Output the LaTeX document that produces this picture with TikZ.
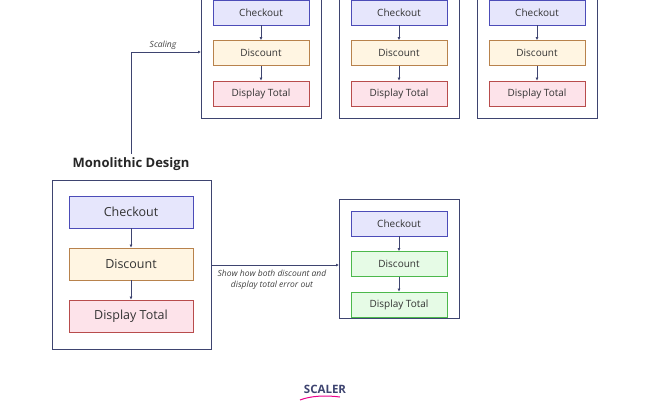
\documentclass[tikz,border=0pt]{standalone}
\usepackage{fontspec}
\setmainfont{Open Sans}
\usetikzlibrary{arrows.meta}
\definecolor{edge}{HTML}{3E4470}
\tikzset{
 cont/.style={draw=edge,line width=0.8pt},
 bx/.style={draw=#1!60!black!70,line width=0.7pt},
 conn/.style={draw=edge,line width=0.6pt,-{Latex[length=3pt,width=3pt]}},
 lbl/.style={font=\fontsize{10}{12}\selectfont,text=black!80},
}
\definecolor{ck}{HTML}{E6E6FC}\definecolor{ds}{HTML}{FFF5E2}\definecolor{dt}{HTML}{FDE3EA}\definecolor{gr}{HTML}{E6FBE6}
\begin{document}
\begin{tikzpicture}[x=1pt,y=-1pt]
\useasboundingbox (0,0) rectangle (650,400);
% small stacks
\foreach \i/\x in {a/201,b/339,c/477}{
 \draw[cont] (\x,-5) rectangle +(120,123);
 \node[bx=blue,fill=ck,minimum width=96pt,minimum height=25pt,lbl] (\i1) at (\x+60,12.5) {Checkout};
 \node[bx=orange,fill=ds,minimum width=96pt,minimum height=25pt,lbl] (\i2) at (\x+60,53) {Discount};
 \node[bx=red,fill=dt,minimum width=96pt,minimum height=25pt,lbl] (\i3) at (\x+60,93.5) {Display Total};
 \draw[conn] (\i1) -- (\i2); \draw[conn] (\i2) -- (\i3);
}
% monolith
\draw[cont] (52,180) rectangle (211,349);
\node[font=\bfseries\fontsize{13}{15}\selectfont,text=black!85] (title) at (131,164) {Monolithic Design};
\node[bx=blue,fill=ck,minimum width=124pt,minimum height=32pt,font=\fontsize{12.5}{14}\selectfont,text=black!80] (m1) at (131,212) {Checkout};
\node[bx=orange,fill=ds,minimum width=124pt,minimum height=32pt,font=\fontsize{12.5}{14}\selectfont,text=black!80] (m2) at (131,264) {Discount};
\node[bx=red,fill=dt,minimum width=124pt,minimum height=32pt,font=\fontsize{12.5}{14}\selectfont,text=black!80] (m3) at (131,316) {Display Total};
\draw[conn] (m1) -- (m2); \draw[conn] (m2) -- (m3);
% right
\draw[cont] (339,199) rectangle (459,318);
\node[bx=blue,fill=ck,minimum width=96pt,minimum height=25pt,lbl] (r1) at (399,223.5) {Checkout};
\node[bx=green,fill=gr,minimum width=96pt,minimum height=25pt,lbl] (r2) at (399,264) {Discount};
\node[bx=green,fill=gr,minimum width=96pt,minimum height=25pt,lbl] (r3) at (399,304.5) {Display Total};
\draw[conn] (r1) -- (r2); \draw[conn] (r2) -- (r3);
% arrows
\coordinate (lc) at (201,52);
\coordinate (ml) at (211,265);
\coordinate (rl) at (339,265);
\draw[conn] (title.north) |- (lc);
\node[font=\itshape\fontsize{8.5}{10}\selectfont,text=black!75] at (163,45) {Scaling};
\draw[conn] (ml) -- (rl);
\node[font=\itshape\fontsize{8.5}{11}\selectfont,text=black!75,align=center] at (272,280) {Show how both discount and\\display total error out};
\node[font=\bfseries\fontsize{11.5}{13}\selectfont,text=edge] at (325,389) {SCALER};
\draw[magenta,line width=1pt] (300,400) .. controls (310,396) and (325,395) .. (340,397);
\end{tikzpicture}
\end{document}
